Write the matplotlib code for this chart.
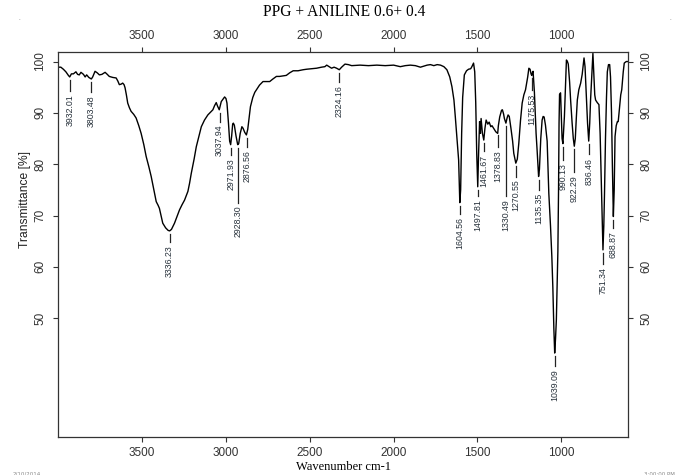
import numpy as np
import matplotlib
matplotlib.use('Agg')
import matplotlib.pyplot as plt

# spectrum: wavenumber [cm-1] and transmittance [%]
wavenumber = [4000, 3985, 3970, 3955, 3940, 3932, 3922, 3910, 3895, 3885, 3875, 3865, 3850, 3840, 3831,
              3818, 3803, 3795, 3781, 3768, 3755, 3740, 3721, 3708, 3696, 3675, 3655, 3645, 3636, 3625,
              3616, 3608, 3602, 3594, 3586, 3576, 3566, 3550, 3536, 3520, 3506, 3490, 3476, 3460, 3446,
              3430, 3416, 3405, 3397, 3385, 3377, 3360, 3345, 3336, 3325, 3307, 3290, 3277, 3262, 3247,
              3235, 3227, 3217, 3207, 3190, 3177, 3160, 3147, 3128, 3108, 3090, 3078, 3068, 3058, 3050,
              3040, 3033, 3028, 3015, 3008, 3000, 2994, 2985, 2978, 2972, 2966, 2960, 2956, 2950, 2940,
              2930, 2924, 2915, 2905, 2898, 2888, 2878, 2870, 2862, 2854, 2840, 2828, 2818, 2800, 2779,
              2760, 2739, 2720, 2699, 2680, 2660, 2640, 2620, 2599, 2570, 2540, 2519, 2490, 2459, 2430,
              2410, 2399, 2385, 2370, 2355, 2340, 2324, 2310, 2290, 2270, 2250, 2200, 2150, 2100, 2050,
              2000, 1960, 1930, 1900, 1870, 1840, 1820, 1800, 1780, 1760, 1740, 1720, 1700, 1682, 1665,
              1652, 1640, 1632, 1622, 1612, 1605, 1600, 1594, 1588, 1578, 1565, 1553, 1540, 1533, 1523,
              1516, 1510, 1504, 1498, 1493, 1487, 1482, 1478, 1470, 1462, 1455, 1448, 1438, 1430, 1420,
              1413, 1400, 1390, 1379, 1375, 1367, 1356, 1351, 1344, 1339, 1330, 1323, 1317, 1310, 1300,
              1290, 1283, 1271, 1262, 1253, 1243, 1233, 1223, 1213, 1200, 1193, 1186, 1180, 1176, 1172,
              1168, 1160, 1150, 1144, 1135, 1130, 1122, 1114, 1108, 1102, 1094, 1084, 1074, 1064, 1056,
              1050, 1044, 1039, 1034, 1029, 1024, 1020, 1016, 1013, 1010, 1004, 1000, 995, 990, 985,
              981, 975, 969, 963, 958, 950, 944, 935, 928, 922, 916, 910, 904, 895, 884,
              875, 864, 858, 850, 843, 836, 830, 825, 818, 811, 806, 800, 795, 785, 775,
              768, 762, 756, 751, 746, 742, 736, 730, 725, 718, 711, 706, 700, 695, 689,
              684, 679, 672, 665, 660, 652, 645, 639, 630, 624, 612, 600]
transmittance = [98.9, 98.9, 98.5, 98.0, 97.3, 97.0, 97.6, 97.6, 98.0, 97.5, 97.4, 97.9, 97.5, 97.0, 97.4,
                 96.9, 96.6, 97.0, 98.1, 97.8, 97.4, 97.5, 97.9, 97.5, 97.1, 96.9, 96.8, 96.2, 95.5, 95.6,
                 95.8, 95.5, 94.9, 93.5, 91.9, 91.0, 90.3, 89.7, 89.0, 87.5, 86.0, 83.8, 81.5, 79.5, 77.6,
                 75.0, 72.7, 72.0, 71.4, 69.6, 68.5, 67.6, 67.1, 67.0, 67.3, 68.5, 70.0, 71.1, 72.1, 73.0,
                 74.0, 74.7, 76.3, 78.2, 81.0, 83.4, 85.6, 87.3, 88.6, 89.6, 90.2, 90.6, 91.4, 92.0, 91.3,
                 90.6, 91.5, 92.2, 92.8, 93.1, 92.8, 91.9, 88.0, 84.5, 83.8, 85.5, 87.8, 88.0, 87.6, 85.5,
                 83.8, 84.0, 86.0, 87.3, 87.0, 86.2, 85.7, 86.8, 89.0, 91.2, 93.0, 94.0, 94.5, 95.4, 96.1,
                 96.1, 96.1, 96.6, 97.1, 97.1, 97.2, 97.3, 97.8, 98.2, 98.2, 98.4, 98.5, 98.6, 98.7, 98.9,
                 99.0, 99.3, 99.0, 98.7, 98.9, 98.7, 98.4, 98.9, 99.5, 99.4, 99.2, 99.3, 99.2, 99.3, 99.2,
                 99.3, 99.0, 99.2, 99.3, 99.2, 98.9, 99.1, 99.3, 99.4, 99.2, 99.4, 99.3, 99.0, 98.4, 97.0,
                 95.1, 92.5, 89.3, 85.0, 80.8, 72.5, 75.0, 86.0, 93.0, 97.4, 98.2, 98.5, 98.6, 99.0, 99.7,
                 98.0, 92.0, 82.0, 75.6, 82.0, 88.3, 86.0, 88.9, 86.0, 84.7, 87.0, 88.6, 87.8, 88.2, 87.3,
                 87.5, 86.8, 86.3, 86.0, 87.5, 89.2, 90.5, 90.6, 89.8, 88.9, 88.0, 89.0, 89.6, 89.3, 87.0,
                 84.5, 82.1, 80.2, 81.0, 84.1, 88.5, 91.9, 93.5, 94.5, 97.0, 98.7, 98.5, 97.6, 97.3, 97.8,
                 98.1, 94.0, 86.0, 82.8, 77.6, 79.0, 85.0, 88.6, 89.3, 89.2, 87.6, 84.5, 74.3, 68.0, 62.0,
                 56.0, 48.0, 43.2, 46.0, 49.7, 57.0, 63.0, 75.0, 88.0, 93.6, 93.9, 90.0, 85.0, 84.0, 87.0,
                 89.3, 95.0, 100.3, 100.0, 99.5, 96.0, 92.5, 88.0, 85.0, 83.5, 85.0, 89.0, 92.5, 94.5, 95.8,
                 97.5, 100.7, 99.0, 93.0, 88.0, 84.5, 88.0, 92.5, 97.0, 101.6, 98.0, 93.5, 92.5, 92.0, 91.6,
                 86.0, 78.0, 69.8, 63.3, 68.0, 74.0, 85.0, 93.0, 98.0, 99.4, 99.4, 97.0, 90.0, 80.0, 69.8,
                 75.0, 85.4, 87.5, 88.3, 88.3, 91.0, 93.5, 94.5, 98.0, 99.7, 100.0, 100.0]

# labelled peaks and the transmittance at each
peak_wn = [3932.01, 3803.48, 3336.23, 3037.94, 2971.93, 2928.30, 2876.56, 2324.16, 1604.56, 1497.81,
           1461.67, 1378.83, 1330.49, 1270.55, 1175.53, 1135.35, 1039.09, 990.13, 922.29, 836.46,
           751.34, 688.87]
peak_t = [97.0, 96.6, 67.0, 90.6, 83.8, 83.8, 85.7, 98.4, 72.5, 75.6,
          84.7, 86.3, 88.0, 80.2, 97.3, 77.6, 43.2, 84.0, 83.5, 84.5,
          63.3, 69.8]
# tick length under each peak label (in % units)
tick_len = [2.1, 2.0, 1.6, 1.7, 1.4, 10.7, 1.7, 1.8, 1.6, 1.2,
            1.6, 2.3, 13.6, 2.0, 2.3, 2.0, 1.9, 2.6, 4.5, 2.0,
            2.1, 1.6]

title = 'PPG + ANILINE 0.6+ 0.4'


def main():
    fig = plt.figure(figsize=(6.96, 4.75), dpi=100)
    ax = fig.add_axes([0.0838, 0.0806, 0.8189, 0.8093])

    ax.plot(wavenumber, transmittance, color='black', lw=1.0)
    ax.set_xlim(4000, 600)
    ax.set_ylim(26.9, 101.8)

    for wn, t, tl in zip(peak_wn, peak_t, tick_len):
        top = t - 0.6
        ax.plot([wn, wn], [top, top - tl], color='#222222', lw=0.9)
        ax.text(wn, top - tl - 0.6, f'{wn:.2f}', rotation=90, ha='center', va='top',
                fontsize=6.3, family='Liberation Sans', color='#26303a')

    ax.set_xticks([3500, 3000, 2500, 2000, 1500, 1000])
    ax.set_yticks([50, 60, 70, 80, 90, 100])
    ax.tick_params(axis='x', which='both', top=True, labeltop=True, direction='out',
                   length=3.6, width=0.8, pad=3.5, labelsize=8.5, colors='#333333')
    ax.tick_params(axis='y', which='both', right=True, labelright=True, direction='out',
                   length=3.6, width=0.8, labelsize=8.5, colors='#333333')
    ax.yaxis.set_tick_params(which='both', pad=9.4)
    for lab in ax.get_xticklabels() + ax.get_yticklabels():
        lab.set_family('Liberation Sans')
    for lab in ax.get_yticklabels(which='both'):
        lab.set_rotation(90)
        lab.set_ha('center')
        lab.set_va('center')
    for tick in ax.yaxis.get_major_ticks():
        tick.label2.set_rotation(90)
        tick.label2.set_ha('center')
        tick.label2.set_va('center')
        tick.label2.set_family('Liberation Sans')
    for tick in ax.xaxis.get_major_ticks():
        tick.label2.set_family('Liberation Sans')

    for sp in ax.spines.values():
        sp.set_color('#333333')
        sp.set_linewidth(0.9)

    fig.text(0.495, 0.975, title, ha='center', va='center', fontsize=11.2, family='Liberation Serif')
    fig.text(0.493, 0.017, 'Wavenumber cm-1', ha='center', va='center', fontsize=9, family='Liberation Serif')
    fig.text(0.036, 0.581, 'Transmittance [%]', rotation=90, ha='center', va='center',
             fontsize=8.7, family='Liberation Sans', color='#222222')

    # printout stamps at the corners, mostly cut off in the scan
    fig.text(13 / 696, 1 - 471.5 / 475, '2/10/2014', ha='left', va='top', fontsize=4, color='#888888')
    fig.text(675 / 696, 1 - 471.5 / 475, '3:00:00 PM', ha='right', va='top', fontsize=4, color='#888888')
    fig.text(19 / 696, 1 - 19 / 475, '.', ha='center', va='center', fontsize=4, color='#555555')
    fig.text(670 / 696, 1 - 19 / 475, '.', ha='center', va='center', fontsize=4, color='#555555')

    fig.savefig('out.png', dpi=100)


if __name__ == "__main__":
    main()
